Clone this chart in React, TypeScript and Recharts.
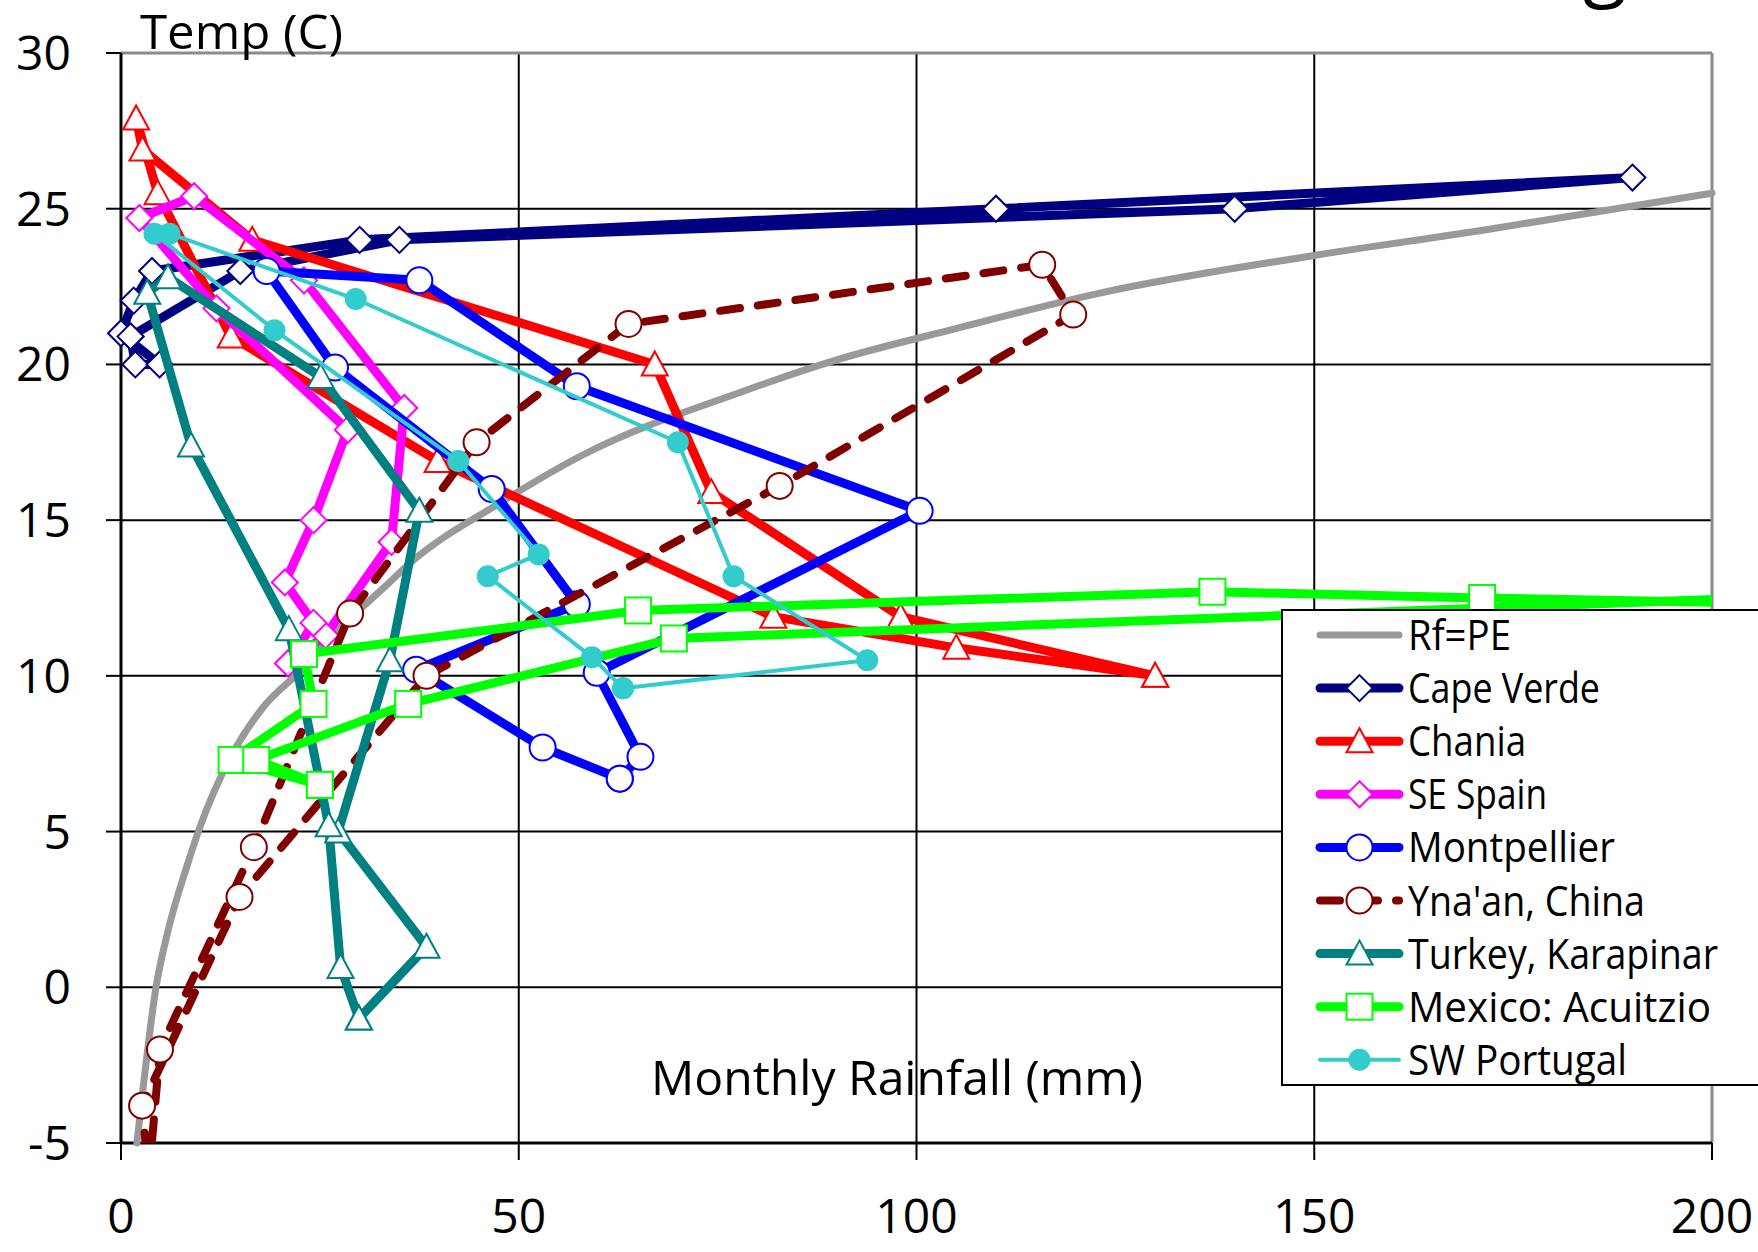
import React from 'react'
import { ScatterChart, Scatter, XAxis, YAxis, CartesianGrid, ReferenceLine, Legend } from 'recharts'

const W = 1758
const H = 1252
const FONT = '"Open Sans", "DejaVu Sans", sans-serif'

// monthly rainfall (mm) and mean temperature (C), Jan..Dec
const capeVerdeRain = [1.2, 1.8, 4.85, 0, 1.6, 3.9, 30, 110, 190, 140, 35, 15]
const capeVerdeTemp = [20.9, 20, 20, 21, 22.05, 23, 24, 25, 26, 25, 24, 23]

const chaniaRain = [130, 105, 82, 39.8, 13.8, 4.6, 1.9, 2.7, 16.5, 67.1, 74.2, 98]
const chaniaTemp = [10, 10.9, 11.9, 16.9, 20.9, 25.5, 27.9, 26.9, 24, 20, 15.9, 11.9]

const seSpainRain = [21, 25.7, 34, 35.6, 23, 9.2, 2.3, 12, 28.5, 24.2, 20.6, 24.2]
const seSpainTemp = [10.4, 11.3, 14.3, 18.6, 22.7, 25.4, 24.7, 21.8, 17.9, 15, 13, 11.7]

const montpellierRain = [62.7, 53, 37.1, 57.3, 46.6, 26.9, 18.3, 37.5, 57.3, 100.4, 59.8, 65.3]
const montpellierTemp = [6.7, 7.7, 10.2, 12.3, 16, 19.9, 23, 22.7, 19.3, 15.3, 10.1, 7.4]

const ynaanRain = [3.5, 4.9, 16.7, 28.8, 44.7, 63.8, 115.8, 119.7, 82.8, 38.4, 14.9, 2.65]
const ynaanTemp = [-6.1, -2.0, 4.5, 12, 17.5, 21.3, 23.2, 21.6, 16.1, 10, 2.9, -3.8]

const turkeyRain = [29.9, 38.4, 27.3, 33.8, 37.5, 25.1, 5.9, 3.3, 8.8, 21.1, 26.1, 27.6]
const turkeyTemp = [-1.0, 1.3, 5.0, 10.5, 15.3, 19.6, 22.8, 22.3, 17.4, 11.5, 5.2, 0.65]

const mexicoRain = [25, 13.9, 24.2, 23, 65, 137.2, 171.1, 235, 215, 69.5, 36.1, 17]
const mexicoTemp = [6.5, 7.3, 9.1, 10.7, 12.1, 12.7, 12.5, 12.2, 12.6, 11.2, 9.1, 7.3]

const portugalRain = [63.1, 59.2, 46.1, 52.5, 42.4, 19.3, 4.2, 6.1, 29.5, 70, 77, 93.8]
const portugalTemp = [9.6, 10.6, 13.2, 13.9, 16.9, 21.1, 24.2, 24.2, 22.1, 17.5, 13.2, 10.5]

// rainfall = potential evaporation curve
const rfPeRain = [2.0, 2.75, 4.4, 5.9, 8.3, 10, 13.6, 17.9, 22.3, 26.6, 32.9, 36.7, 47.3, 58.1, 77.8, 90.7, 104.2, 123.2, 150, 171, 200]
const rfPeTemp = [-5, -3.3, 0, 1.8, 3.9, 5.2, 7.3, 9.0, 10.1, 11.3, 12.8, 13.7, 15.5, 17.1, 19.1, 20.2, 21.1, 22.3, 23.5, 24.3, 25.5]

const xTicks = [0, 50, 100, 150, 200]
const yTicks = [-5, 0, 5, 10, 15, 20, 25, 30]

type Pt = { x: number; y: number }
const toPoints = (rain: number[], temp: number[], closed = true): Pt[] => {
  const pts = rain.map((x, i) => ({ x, y: temp[i] }))
  return closed ? [...pts, pts[0]] : pts
}

type MarkerKind = 'diamond' | 'triangle' | 'circle' | 'square' | 'dot' | 'none'

interface SeriesDef {
  name: string
  data: Pt[]
  color: string
  width: number
  marker: MarkerKind
  dash?: string
  clip?: boolean
  smooth?: boolean
  textWidth: number
}

const series: SeriesDef[] = [
  { name: 'Rf=PE', data: toPoints(rfPeRain, rfPeTemp, false), color: '#999999', width: 7, marker: 'none', smooth: true, textWidth: 103 },
  { name: 'Cape Verde', data: toPoints(capeVerdeRain, capeVerdeTemp), color: '#000080', width: 9, marker: 'diamond', textWidth: 192 },
  { name: 'Chania', data: toPoints(chaniaRain, chaniaTemp), color: '#FF0000', width: 9, marker: 'triangle', textWidth: 118 },
  { name: 'SE Spain', data: toPoints(seSpainRain, seSpainTemp), color: '#FF00FF', width: 9, marker: 'diamond', textWidth: 139 },
  { name: 'Montpellier', data: toPoints(montpellierRain, montpellierTemp), color: '#0000FF', width: 9, marker: 'circle', textWidth: 207 },
  { name: "Yna'an, China", data: toPoints(ynaanRain, ynaanTemp), color: '#800000', width: 8, marker: 'circle', dash: '20 18', clip: true, textWidth: 237 },
  { name: 'Turkey, Karapinar', data: toPoints(turkeyRain, turkeyTemp), color: '#008080', width: 9, marker: 'triangle', textWidth: 310 },
  { name: 'Mexico: Acuitzio', data: toPoints(mexicoRain, mexicoTemp), color: '#00FF00', width: 9, marker: 'square', clip: true, textWidth: 303 },
  { name: 'SW Portugal', data: toPoints(portugalRain, portugalTemp), color: '#33CCCC', width: 4, marker: 'dot', textWidth: 219 },
]

function Marker({ kind, cx, cy, color }: { kind: MarkerKind; cx: number; cy: number; color: string }) {
  if (cx == null || cy == null) return <g />
  switch (kind) {
    case 'diamond':
      return <path d={`M${cx},${cy - 13}L${cx + 13},${cy}L${cx},${cy + 13}L${cx - 13},${cy}Z`} fill="#fff" stroke={color} strokeWidth={2} />
    case 'triangle':
      return <path d={`M${cx},${cy - 13}L${cx + 13},${cy + 11}L${cx - 13},${cy + 11}Z`} fill="#fff" stroke={color} strokeWidth={2} />
    case 'circle':
      return <circle cx={cx} cy={cy} r={13} fill="#fff" stroke={color} strokeWidth={2} />
    case 'square':
      return <rect x={cx - 13} y={cy - 13} width={26} height={26} fill="#fff" stroke={color} strokeWidth={2} />
    case 'dot':
      return <circle cx={cx} cy={cy} r={11} fill={color} />
    default:
      return <g />
  }
}

function LegendBox() {
  return (
    <div
      style={{
        width: 477,
        height: 477,
        boxSizing: 'border-box',
        border: '2px solid #000',
        borderRight: 'none',
        background: '#fff',
      }}
    >
      <svg width={475} height={473} style={{ display: 'block', overflow: 'visible' }}>
        {series.map((s, i) => {
          const cy = 24 + i * 53.1
          return (
            <g key={s.name}>
              <line
                x1={37}
                x2={116}
                y1={cy}
                y2={cy}
                stroke={s.color}
                strokeWidth={s.width}
                strokeDasharray={s.dash}
                strokeLinecap="round"
              />
              <Marker kind={s.marker} cx={76.5} cy={cy} color={s.color} />
              <text
                x={125}
                y={cy + 15}
                fontSize={42}
                fontFamily={FONT}
                fill="#000"
                textLength={s.textWidth}
                lengthAdjust="spacingAndGlyphs"
              >
                {s.name}
              </text>
            </g>
          )
        })}
      </svg>
    </div>
  )
}

const tickStyle = { fontSize: 48, fill: '#000', fontFamily: FONT }

export default function App() {
  return (
    <div style={{ position: 'fixed', left: 0, top: 0, width: W, height: H, background: '#fff', overflow: 'hidden' }}>
      <ScatterChart width={W} height={H} margin={{ top: 53, right: 46, bottom: 0, left: 0 }} style={{ fontFamily: FONT }}>
        <CartesianGrid stroke="#000" strokeWidth={2} />
        <XAxis
          type="number"
          dataKey="x"
          domain={[0, 200]}
          ticks={xTicks}
          interval={0}
          allowDataOverflow
          height={109}
          tickSize={17}
          tickMargin={39}
          tick={tickStyle}
          axisLine={{ stroke: '#000', strokeWidth: 3 }}
          tickLine={{ stroke: '#000', strokeWidth: 2 }}
        />
        <YAxis
          type="number"
          dataKey="y"
          domain={[-5, 30]}
          ticks={yTicks}
          interval={0}
          allowDataOverflow
          width={121}
          tickSize={15}
          tickMargin={35}
          tick={tickStyle}
          axisLine={{ stroke: '#000', strokeWidth: 3 }}
          tickLine={{ stroke: '#000', strokeWidth: 2 }}
        />
        <XAxis xAxisId="h" type="number" dataKey="x" domain={[0, 200]} ticks={xTicks} hide />
        <YAxis yAxisId="h" type="number" dataKey="y" domain={[-5, 30]} ticks={yTicks} hide />
        <ReferenceLine y={30} stroke="#8c8c8c" strokeWidth={3} />
        <ReferenceLine x={200} stroke="#8c8c8c" strokeWidth={3} />
        {series.map((s) => (
          <Scatter
            key={s.name}
            name={s.name}
            data={s.data}
            xAxisId={s.clip ? 0 : 'h'}
            yAxisId={s.clip ? 0 : 'h'}
            line={{
              stroke: s.color,
              strokeWidth: s.width,
              strokeDasharray: s.dash,
              strokeLinecap: 'round',
              strokeLinejoin: 'round',
            }}
            lineType="joint"
            lineJointType={s.smooth ? 'monotoneX' : 'linear'}
            shape={(p: any) => <Marker kind={s.marker} cx={p.cx} cy={p.cy} color={s.color} />}
            isAnimationActive={false}
          />
        ))}
        <Legend
          layout="vertical"
          align="center"
          verticalAlign="middle"
          wrapperStyle={{ left: 1281, top: 609, width: 477, height: 477 }}
          content={() => <LegendBox />}
        />
      </ScatterChart>
      <svg width={W} height={H} style={{ position: 'absolute', left: 0, top: 0, pointerEvents: 'none' }}>
        <text x={140} y={49} fontSize={48} fontFamily={FONT} fill="#000" textLength={203} lengthAdjust="spacingAndGlyphs">
          Temp (C)
        </text>
        <text x={651} y={1095} fontSize={48} fontFamily={FONT} fill="#000" textLength={492} lengthAdjust="spacingAndGlyphs">
          Monthly Rainfall (mm)
        </text>
        <text x={1583} y={-9} fontSize={80} fontFamily={FONT} fill="#000">
          g
        </text>
      </svg>
    </div>
  )
}
